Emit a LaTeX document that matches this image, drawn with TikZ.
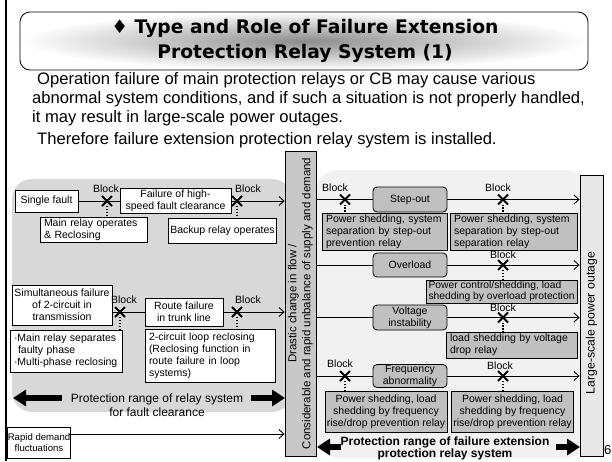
\documentclass[tikz,border=0pt]{standalone}
\usepackage{fontspec}
\setmainfont{Liberation Sans}
\newfontfamily\titlefont{DejaVu Sans}
\usetikzlibrary{arrows.meta,shapes.misc}
\definecolor{boxgray}{HTML}{C0C0C0}
\definecolor{bargray}{HTML}{C8C8C8}
\definecolor{lbargray}{HTML}{E8E8E8}
\definecolor{leftreg}{HTML}{D8D8D8}
\definecolor{rightreg}{HTML}{F1F1F1}
\newcommand\myfs[2]{\fontsize{#1}{#2}\selectfont}
\hyphenpenalty=10000
\begin{document}
\begin{tikzpicture}[x=1pt,y=-1pt,
  wbox/.style={draw, fill=white, line width=0.8pt, font=\myfs{10.5}{12}, inner sep=1.5pt, align=center},
  gbox/.style={draw, fill=boxgray, line width=0.8pt, font=\myfs{10.5}{12}, inner sep=1.5pt, align=center},
  lalign/.style={align=left, inner xsep=4pt},
  rbox/.style={gbox, rounded corners=4pt, inner ysep=0.5pt},
  xmark/.style={draw, cross out, line width=2pt, minimum size=8pt, inner sep=0pt},
  blk/.style={font=\myfs{10.5}{12}, inner sep=0pt},
  conn/.style={line width=0.9pt},
  arr/.style={conn, -{Straight Barb[length=5pt,width=9pt]}},
  dotl/.style={line width=1.3pt, dash pattern=on 1.3pt off 1.6pt},
  bigarr/.style={line width=6pt, -{Triangle[length=13pt,width=16pt]}},
  bodytxt/.style={anchor=base west, inner sep=0pt, font=\myfs{16.6}{19}}
]
\useasboundingbox (0,0) rectangle (612,461);
\fill[white] (0,0) rectangle (612,461);
\draw[line width=2pt] (6,0) -- (6,461);

% title
\shade[inner color=black!45, outer color=white, rounded corners=10pt] (20,12) rectangle (588,70);
\draw[line width=0.8pt, rounded corners=10pt] (20,12) rectangle (588,70);
\node[align=center, inner sep=0pt, font=\titlefont\bfseries\myfs{18.7}{25}] (title) at (305,41)
  {♦ Type and Role of Failure Extension\\Protection Relay System (1)};

% body text
\node[bodytxt] (t1) at (37,84) {Operation failure of main protection relays or CB may cause various};
\node[bodytxt] (t2) at (32,103) {abnormal system conditions, and if such a situation is not properly handled,};
\node[bodytxt] (t3) at (32,122) {it may result in large-scale power outages.};
\node[bodytxt] (t4) at (37,144) {Therefore failure extension protection relay system is installed.};

% regions
\fill[leftreg, rounded corners=20pt] (12,179) rectangle (292,412);
\fill[rightreg, rounded corners=25pt] (314,170) rectangle (590,458);

% bars
\node[draw, fill=bargray, line width=0.8pt, minimum width=31pt, minimum height=305pt, inner sep=0pt] (cb) at (300.5,303.5) {};
\node[rotate=90, align=center, inner sep=0pt, font=\myfs{11.5}{14}] (cbt) at (cb.center)
  {Drastic change in flow /\\Considerable and rapid unbalance of supply and demand};
\node[draw, fill=lbargray, line width=0.8pt, minimum width=23pt, minimum height=281pt, inner sep=0pt] (lb) at (591.5,315.5) {};
\node[rotate=90, inner sep=0pt, font=\myfs{12.3}{14}] (lbt) at (591.5,323) {Large-scale power outage};

% left boxes
\node[wbox, minimum width=63pt, minimum height=22pt] (sf) at (46.5,201) {Single fault};
\node[wbox, minimum width=111pt, minimum height=24pt] (ff) at (175.5,201) {Failure of high-\\speed fault clearance};
\node[wbox, lalign, text width=99pt, minimum width=107pt, minimum height=24pt] (mr) at (93.5,230) {Main relay operates\\\& Reclosing};
\node[wbox, minimum width=105pt, minimum height=25pt] (br) at (222.5,230.5) {Backup relay operates};
\node[wbox, minimum width=100pt, minimum height=40pt] (sim) at (62,305) {Simultaneous failure\\of 2-circuit in\\transmission};
\node[wbox, minimum width=78pt, minimum height=28pt] (rf) at (184,312) {Route failure\\in trunk line};
\node[wbox, lalign, text width=104pt, minimum width=112pt, minimum height=42pt] (ms) at (66,351) {·Main relay separates\\\hspace*{4pt}faulty phase\\·Multi-phase reclosing};
\node[wbox, lalign, text width=122pt, minimum width=130pt, minimum height=53pt] (lr) at (210,355.5) {2-circuit loop reclosing\\(Reclosing function in\\route failure in loop\\systems)};
\node[wbox, inner sep=0pt, font=\myfs{9.6}{11.5}, minimum width=60pt, minimum height=31pt] (rd) at (39,442.5) {Rapid demand\\fluctuations};
\coordinate (rdl) at (69,434);

% left connectors
\draw[conn] (sf) -- (ff);
\draw[arr] (ff.east) -- (cb.west |- ff.east);
\draw[conn] (sim.east |- rf.west) -- (rf.west);
\draw[arr] (rf.east) -- (cb.west |- rf.east);
\draw[arr] (rdl) -- (cb.west |- rdl);

\node[xmark] (x1) at (107,201) {};
\node[xmark] (x2) at (237,201) {};
\node[xmark] (x3) at (120,312) {};
\node[xmark] (x4) at (237,312) {};
\node[blk] (b1) at (106,189) {Block};
\node[blk] (b2) at (248,189) {Block};
\node[blk] (b3) at (124,300) {Block};
\node[blk] (b4) at (248,300) {Block};
\draw[dotl] (x1) -- (x1 |- mr.north);
\draw[dotl] (x2) -- (x2 |- br.north);
\draw[dotl] (x3) -- (x3 |- ms.north);
\draw[dotl] (x4) -- (x4 |- lr.north);

\node[align=center, inner sep=0pt, font=\myfs{12}{14.5}] (pr1) at (157,405) {Protection range of relay system\\for fault clearance};
\coordinate (la1) at (62,398); \coordinate (la1t) at (13,398);
\coordinate (ra1) at (251,398); \coordinate (ra1t) at (285,398);
\draw[bigarr] (la1) -- (la1t);
\draw[bigarr] (ra1) -- (ra1t);

% right boxes
\node[rbox, minimum width=74pt, minimum height=25pt] (so) at (410,199.5) {Step-out};
\node[gbox, lalign, text width=117pt, minimum width=125pt, minimum height=37pt] (ps1) at (384.5,231.5) {Power shedding, system\\separation by step-out\\prevention relay};
\node[gbox, lalign, text width=119pt, minimum width=127pt, minimum height=37pt] (ps2) at (513.5,231.5) {Power shedding, system\\separation by step-out\\separation relay};
\node[rbox, minimum width=74pt, minimum height=24pt] (ov) at (410,265) {Overload};
\node[gbox, align=left, inner xsep=1pt, inner ysep=0.5pt, font=\myfs{10.3}{11.5}, minimum width=151pt, minimum height=23pt] (pc) at (501.5,291.5) {Power control/shedding, load\\shedding by overload protection};
\node[rbox, minimum width=74pt, minimum height=25pt] (vi) at (410,317.5) {Voltage\\instability};
\node[gbox, lalign, text width=123pt, minimum width=131pt, minimum height=26pt] (ld) at (511.5,345) {load shedding by voltage\\drop relay};
\node[rbox, minimum width=74pt, minimum height=23pt] (fa) at (410,376) {Frequency\\abnormality};
\node[gbox, minimum width=122pt, minimum height=41pt] (fs1) at (386,411.5) {Power shedding, load\\shedding by frequency\\rise/drop prevention relay};
\node[gbox, minimum width=119pt, minimum height=41pt] (fs2) at (512.5,411.5) {Power shedding, load\\shedding by frequency\\rise/drop prevention relay};

% right connectors
\draw[conn] (cb.east |- so.west) -- (so.west);
\draw[arr] (so.east) -- (lb.west |- so.east);
\draw[conn] (cb.east |- ov.west) -- (ov.west);
\draw[arr] (ov.east) -- (lb.west |- ov.east);
\draw[conn] (cb.east |- vi.west) -- (vi.west);
\draw[arr] (vi.east) -- (lb.west |- vi.east);
\draw[conn] (cb.east |- fa.west) -- (fa.west);
\draw[arr] (fa.east) -- (lb.west |- fa.east);

\node[xmark] (x5) at (345,199.5) {};
\node[xmark] (x6) at (503,199.5) {};
\node[xmark] (x7) at (503,265) {};
\node[xmark] (x8) at (503,317.5) {};
\node[xmark] (x9) at (345,376) {};
\node[xmark] (x10) at (503,376) {};
\node[blk] (b5) at (335,188) {Block};
\node[blk] (b6) at (498,188) {Block};
\node[blk] (b7) at (503,255) {Block};
\node[blk] (b8) at (503,308) {Block};
\node[blk] (b9) at (340,364) {Block};
\node[blk] (b10) at (500,366) {Block};
\draw[dotl] (x5) -- (x5 |- ps1.north);
\draw[dotl] (x6) -- (x6 |- ps2.north);
\draw[dotl] (x7) -- (x7 |- pc.north);
\draw[dotl] (x8) -- (x8 |- ld.north);
\draw[dotl] (x9) -- (x9 |- fs1.north);
\draw[dotl] (x10) -- (x10 |- fs2.north);

\node[align=center, inner sep=0pt, font=\bfseries\myfs{12}{11.5}] (pr2) at (445,448.5) {Protection range of failure extension\\protection relay system};
\coordinate (la2) at (341,447); \coordinate (la2t) at (317,447);
\coordinate (ra2) at (556,447); \coordinate (ra2t) at (580,447);
\draw[bigarr] (la2) -- (la2t);
\draw[bigarr] (ra2) -- (ra2t);

\node[anchor=west, inner sep=0pt, font=\myfs{13}{15}] (pg) at (604,450) {6};
\end{tikzpicture}
\end{document}
